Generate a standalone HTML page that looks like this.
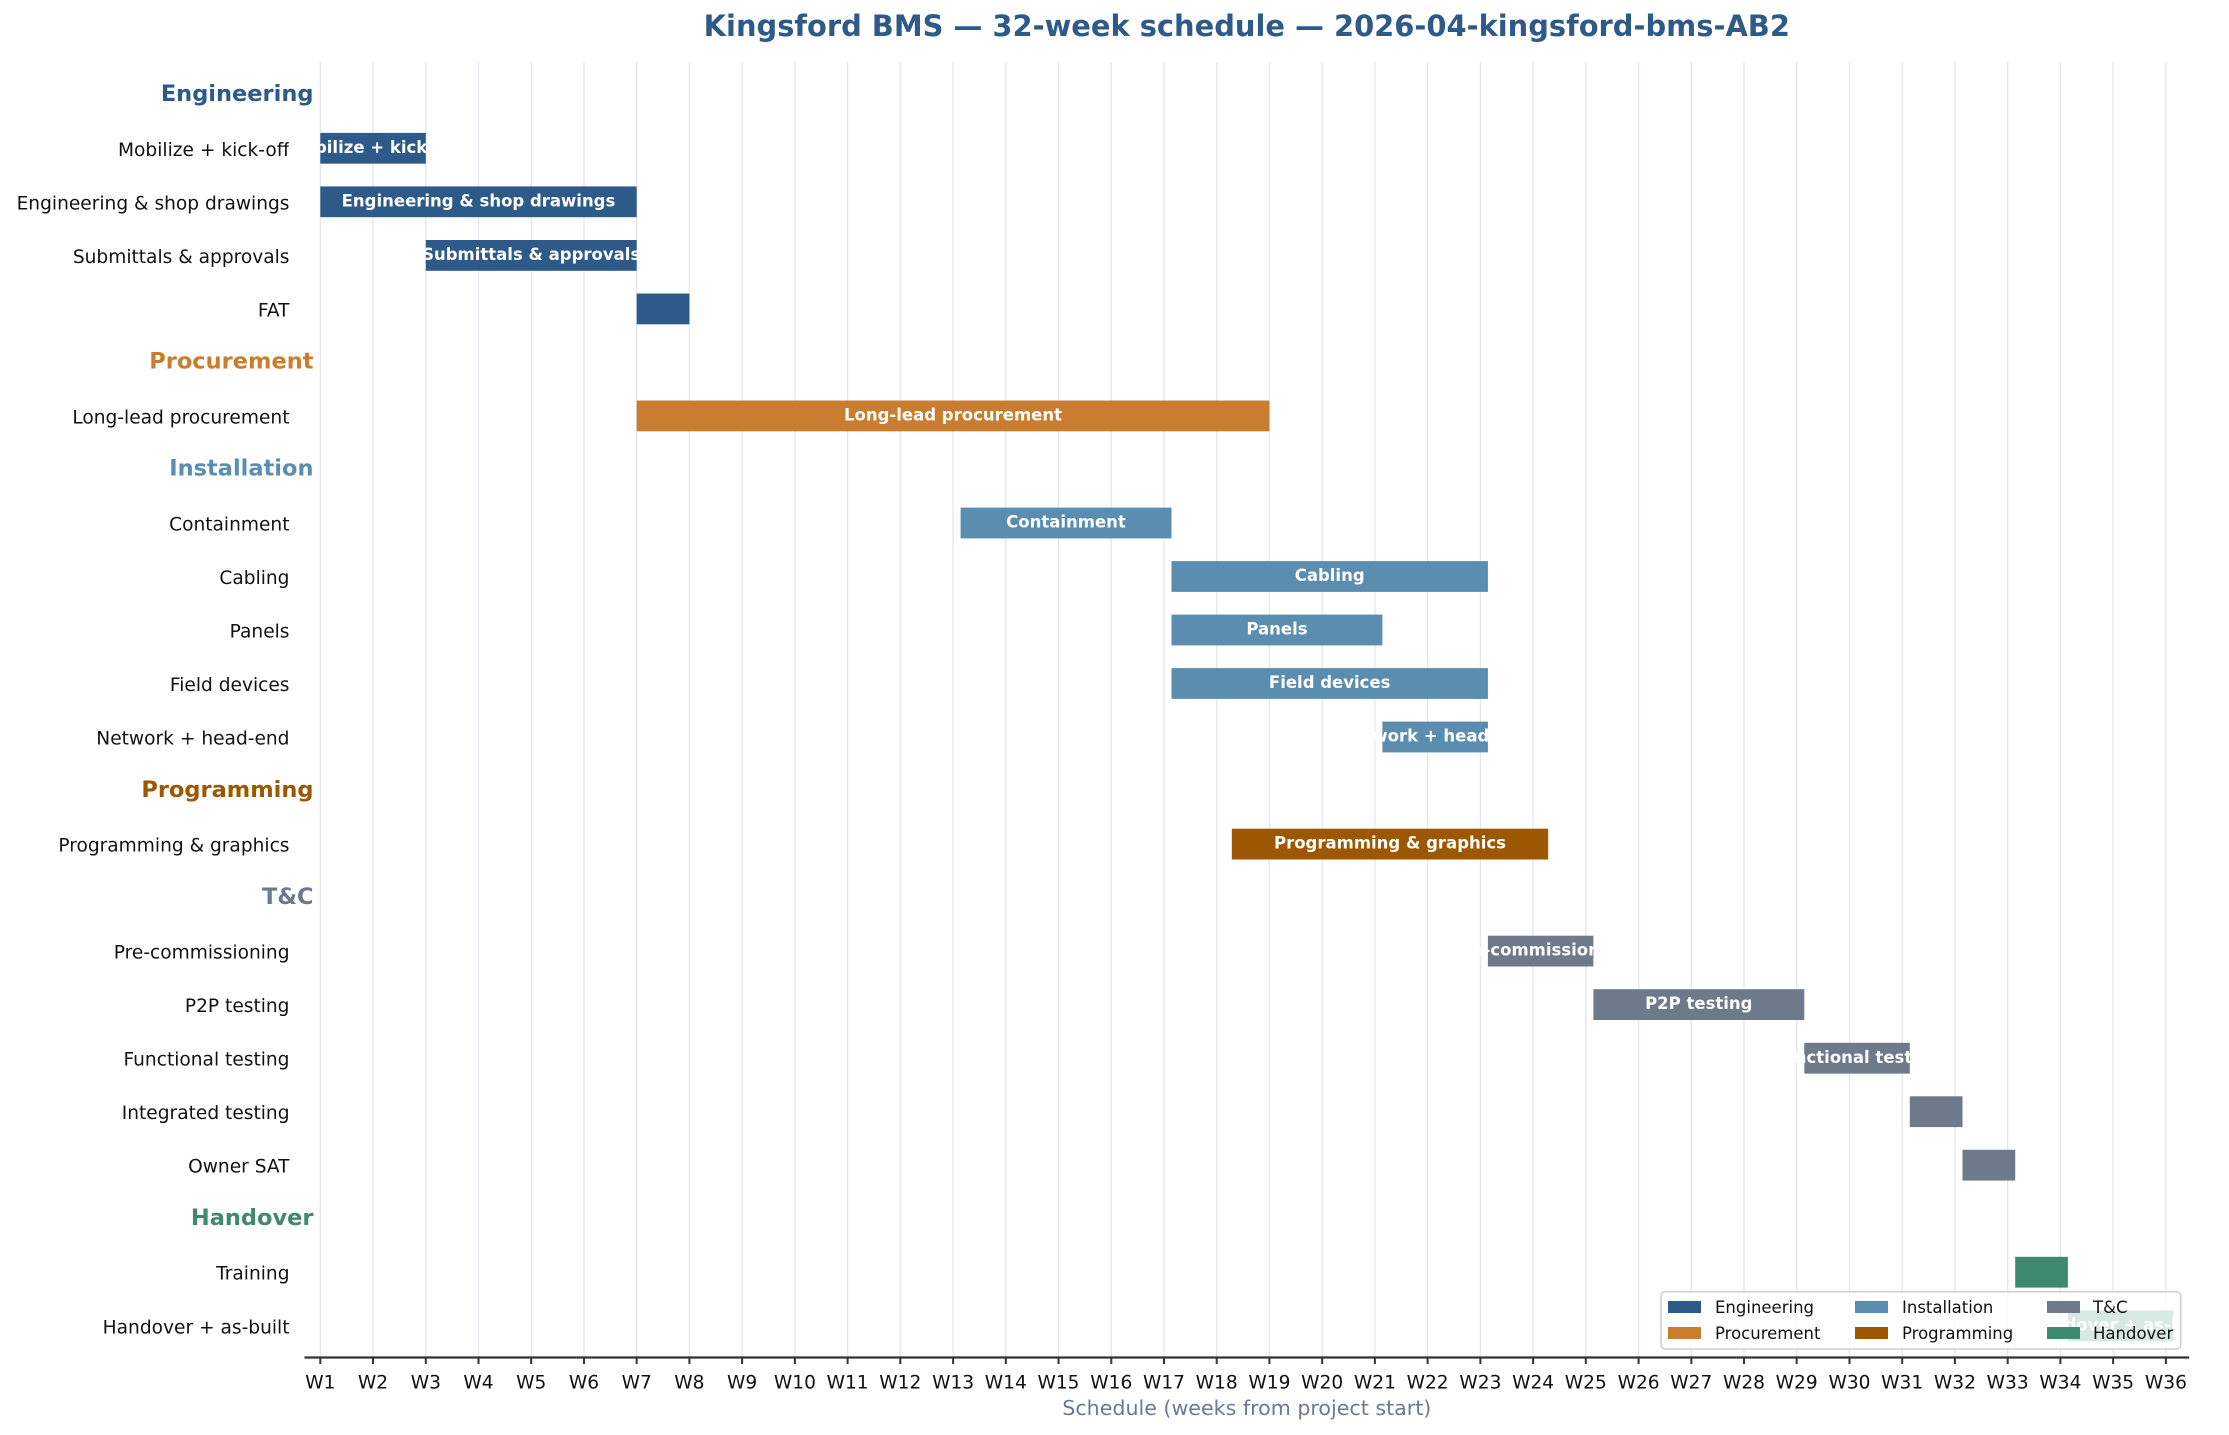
<!DOCTYPE html>
<html>
<head>
<meta charset="utf-8">
<style>
html,body{margin:0;padding:0;background:#ffffff;}
svg{display:block;}
text{font-family:"DejaVu Sans","Liberation Sans",sans-serif;}
.rl{font-size:18.6px;fill:#111;text-anchor:end;}
.hd{font-size:22.5px;font-weight:bold;text-anchor:end;}
.bt{font-size:16.5px;font-weight:bold;fill:#ffffff;text-anchor:middle;}
.tk{font-size:18.6px;fill:#111;text-anchor:middle;}
.lg{font-size:16.5px;fill:#111;}
</style>
</head>
<body>
<svg width="2229" height="1435" viewBox="0 0 2229 1435" xmlns="http://www.w3.org/2000/svg">
<rect x="0" y="0" width="2229" height="1435" fill="#ffffff"/>

<!-- title -->
<text x="1246.8" y="36" text-anchor="middle" style="font-size:28.9px;font-weight:bold;fill:#2E5A8A;">Kingsford BMS — 32-week schedule — 2026-04-kingsford-bms-AB2</text>

<!-- grid -->
<g stroke="#e4e6ed" stroke-width="1.3">
<line x1="320.3" y1="62" x2="320.3" y2="1357.5"/>
<line x1="373.0" y1="62" x2="373.0" y2="1357.5"/>
<line x1="425.8" y1="62" x2="425.8" y2="1357.5"/>
<line x1="478.5" y1="62" x2="478.5" y2="1357.5"/>
<line x1="531.2" y1="62" x2="531.2" y2="1357.5"/>
<line x1="584.0" y1="62" x2="584.0" y2="1357.5"/>
<line x1="636.7" y1="62" x2="636.7" y2="1357.5"/>
<line x1="689.4" y1="62" x2="689.4" y2="1357.5"/>
<line x1="742.1" y1="62" x2="742.1" y2="1357.5"/>
<line x1="794.9" y1="62" x2="794.9" y2="1357.5"/>
<line x1="847.6" y1="62" x2="847.6" y2="1357.5"/>
<line x1="900.3" y1="62" x2="900.3" y2="1357.5"/>
<line x1="953.1" y1="62" x2="953.1" y2="1357.5"/>
<line x1="1005.8" y1="62" x2="1005.8" y2="1357.5"/>
<line x1="1058.5" y1="62" x2="1058.5" y2="1357.5"/>
<line x1="1111.3" y1="62" x2="1111.3" y2="1357.5"/>
<line x1="1164.0" y1="62" x2="1164.0" y2="1357.5"/>
<line x1="1216.7" y1="62" x2="1216.7" y2="1357.5"/>
<line x1="1269.4" y1="62" x2="1269.4" y2="1357.5"/>
<line x1="1322.2" y1="62" x2="1322.2" y2="1357.5"/>
<line x1="1374.9" y1="62" x2="1374.9" y2="1357.5"/>
<line x1="1427.6" y1="62" x2="1427.6" y2="1357.5"/>
<line x1="1480.4" y1="62" x2="1480.4" y2="1357.5"/>
<line x1="1533.1" y1="62" x2="1533.1" y2="1357.5"/>
<line x1="1585.8" y1="62" x2="1585.8" y2="1357.5"/>
<line x1="1638.6" y1="62" x2="1638.6" y2="1357.5"/>
<line x1="1691.3" y1="62" x2="1691.3" y2="1357.5"/>
<line x1="1744.0" y1="62" x2="1744.0" y2="1357.5"/>
<line x1="1796.7" y1="62" x2="1796.7" y2="1357.5"/>
<line x1="1849.5" y1="62" x2="1849.5" y2="1357.5"/>
<line x1="1902.2" y1="62" x2="1902.2" y2="1357.5"/>
<line x1="1954.9" y1="62" x2="1954.9" y2="1357.5"/>
<line x1="2007.7" y1="62" x2="2007.7" y2="1357.5"/>
<line x1="2060.4" y1="62" x2="2060.4" y2="1357.5"/>
<line x1="2113.1" y1="62" x2="2113.1" y2="1357.5"/>
<line x1="2165.9" y1="62" x2="2165.9" y2="1357.5"/>
</g>

<!-- headers -->
<text class="hd" x="313.5" y="101.1" fill="#2E5A8A">Engineering</text>
<text class="hd" x="313.5" y="368.7" fill="#C97D2E">Procurement</text>
<text class="hd" x="313.5" y="475.7" fill="#5B8DB0">Installation</text>
<text class="hd" x="313.5" y="796.9" fill="#9C5700">Programming</text>
<text class="hd" x="313.5" y="903.9" fill="#6E798C">T&amp;C</text>
<text class="hd" x="313.5" y="1225.0" fill="#3E8A6E">Handover</text>

<!-- row labels -->
<text class="rl" x="289.5" y="155.8">Mobilize + kick-off</text>
<text class="rl" x="289.5" y="209.3">Engineering &amp; shop drawings</text>
<text class="rl" x="289.5" y="262.9">Submittals &amp; approvals</text>
<text class="rl" x="289.5" y="316.4">FAT</text>
<text class="rl" x="289.5" y="423.4">Long-lead procurement</text>
<text class="rl" x="289.5" y="530.5">Containment</text>
<text class="rl" x="289.5" y="584.0">Cabling</text>
<text class="rl" x="289.5" y="637.5">Panels</text>
<text class="rl" x="289.5" y="691.0">Field devices</text>
<text class="rl" x="289.5" y="744.5">Network + head-end</text>
<text class="rl" x="289.5" y="851.6">Programming &amp; graphics</text>
<text class="rl" x="289.5" y="958.6">Pre-commissioning</text>
<text class="rl" x="289.5" y="1012.1">P2P testing</text>
<text class="rl" x="289.5" y="1065.7">Functional testing</text>
<text class="rl" x="289.5" y="1119.2">Integrated testing</text>
<text class="rl" x="289.5" y="1172.7">Owner SAT</text>
<text class="rl" x="289.5" y="1279.7">Training</text>
<text class="rl" x="289.5" y="1333.3">Handover + as-built</text>

<!-- bars -->
<g>
<rect x="320.3" y="132.9" width="105.5" height="30.8" fill="#2E5A8A"/>
<rect x="320.3" y="186.4" width="316.4" height="30.8" fill="#2E5A8A"/>
<rect x="425.8" y="240.0" width="210.9" height="30.8" fill="#2E5A8A"/>
<rect x="636.7" y="293.5" width="52.7" height="30.8" fill="#2E5A8A"/>
<rect x="636.7" y="400.5" width="632.7" height="30.8" fill="#C97D2E"/>
<rect x="960.6" y="507.6" width="210.9" height="30.8" fill="#5B8DB0"/>
<rect x="1171.5" y="561.1" width="316.4" height="30.8" fill="#5B8DB0"/>
<rect x="1171.5" y="614.6" width="210.9" height="30.8" fill="#5B8DB0"/>
<rect x="1171.5" y="668.1" width="316.4" height="30.8" fill="#5B8DB0"/>
<rect x="1382.4" y="721.6" width="105.5" height="30.8" fill="#5B8DB0"/>
<rect x="1231.8" y="828.7" width="316.4" height="30.8" fill="#9C5700"/>
<rect x="1487.9" y="935.7" width="105.5" height="30.8" fill="#6E798C"/>
<rect x="1593.4" y="989.2" width="210.9" height="30.8" fill="#6E798C"/>
<rect x="1804.3" y="1042.8" width="105.5" height="30.8" fill="#6E798C"/>
<rect x="1909.8" y="1096.3" width="52.7" height="30.8" fill="#6E798C"/>
<rect x="1962.5" y="1149.8" width="52.7" height="30.8" fill="#6E798C"/>
<rect x="2015.2" y="1256.8" width="52.7" height="30.8" fill="#3E8A6E"/>
<rect x="2067.9" y="1310.4" width="105.5" height="30.8" fill="#3E8A6E"/>
</g>

<!-- bar labels -->
<text class="bt" x="373.0" y="152.9">Mobilize + kick-off</text>
<text class="bt" x="478.5" y="206.4">Engineering &amp; shop drawings</text>
<text class="bt" x="531.2" y="260.0">Submittals &amp; approvals</text>
<text class="bt" x="953.0" y="420.5">Long-lead procurement</text>
<text class="bt" x="1066.0" y="527.6">Containment</text>
<text class="bt" x="1329.7" y="581.1">Cabling</text>
<text class="bt" x="1277.0" y="634.6">Panels</text>
<text class="bt" x="1329.7" y="688.1">Field devices</text>
<text class="bt" x="1435.2" y="741.6">Network + head-end</text>
<text class="bt" x="1390.0" y="848.7">Programming &amp; graphics</text>
<text class="bt" x="1540.6" y="955.7">Pre-commissioning</text>
<text class="bt" x="1698.8" y="1009.2">P2P testing</text>
<text class="bt" x="1857.0" y="1062.8">Functional testing</text>
<text class="bt" x="2120.7" y="1330.4">Handover + as-built</text>

<!-- legend -->
<rect x="1661" y="1291.7" width="519.7" height="57.3" rx="4" ry="4" fill="#ffffff" fill-opacity="0.8" stroke="#cfcfcf" stroke-width="1.5"/>
<rect x="1668" y="1301" width="33" height="12" fill="#2E5A8A"/>
<text class="lg" x="1715" y="1313">Engineering</text>
<rect x="1668" y="1327" width="33" height="12" fill="#C97D2E"/>
<text class="lg" x="1715" y="1339">Procurement</text>
<rect x="1855" y="1301" width="33" height="12" fill="#5B8DB0"/>
<text class="lg" x="1902" y="1313">Installation</text>
<rect x="1855" y="1327" width="33" height="12" fill="#9C5700"/>
<text class="lg" x="1902" y="1339">Programming</text>
<rect x="2047" y="1301" width="33" height="12" fill="#6E798C"/>
<text class="lg" x="2093" y="1313">T&amp;C</text>
<rect x="2047" y="1327" width="33" height="12" fill="#3E8A6E"/>
<text class="lg" x="2093" y="1339">Handover</text>

<!-- bottom spine and ticks -->
<line x1="304.5" y1="1357.5" x2="2189.2" y2="1357.5" stroke="#333333" stroke-width="2.2"/>
<g stroke="#333333" stroke-width="2">
<line x1="320.3" y1="1357.5" x2="320.3" y2="1364"/>
<line x1="373.0" y1="1357.5" x2="373.0" y2="1364"/>
<line x1="425.8" y1="1357.5" x2="425.8" y2="1364"/>
<line x1="478.5" y1="1357.5" x2="478.5" y2="1364"/>
<line x1="531.2" y1="1357.5" x2="531.2" y2="1364"/>
<line x1="584.0" y1="1357.5" x2="584.0" y2="1364"/>
<line x1="636.7" y1="1357.5" x2="636.7" y2="1364"/>
<line x1="689.4" y1="1357.5" x2="689.4" y2="1364"/>
<line x1="742.1" y1="1357.5" x2="742.1" y2="1364"/>
<line x1="794.9" y1="1357.5" x2="794.9" y2="1364"/>
<line x1="847.6" y1="1357.5" x2="847.6" y2="1364"/>
<line x1="900.3" y1="1357.5" x2="900.3" y2="1364"/>
<line x1="953.1" y1="1357.5" x2="953.1" y2="1364"/>
<line x1="1005.8" y1="1357.5" x2="1005.8" y2="1364"/>
<line x1="1058.5" y1="1357.5" x2="1058.5" y2="1364"/>
<line x1="1111.3" y1="1357.5" x2="1111.3" y2="1364"/>
<line x1="1164.0" y1="1357.5" x2="1164.0" y2="1364"/>
<line x1="1216.7" y1="1357.5" x2="1216.7" y2="1364"/>
<line x1="1269.4" y1="1357.5" x2="1269.4" y2="1364"/>
<line x1="1322.2" y1="1357.5" x2="1322.2" y2="1364"/>
<line x1="1374.9" y1="1357.5" x2="1374.9" y2="1364"/>
<line x1="1427.6" y1="1357.5" x2="1427.6" y2="1364"/>
<line x1="1480.4" y1="1357.5" x2="1480.4" y2="1364"/>
<line x1="1533.1" y1="1357.5" x2="1533.1" y2="1364"/>
<line x1="1585.8" y1="1357.5" x2="1585.8" y2="1364"/>
<line x1="1638.6" y1="1357.5" x2="1638.6" y2="1364"/>
<line x1="1691.3" y1="1357.5" x2="1691.3" y2="1364"/>
<line x1="1744.0" y1="1357.5" x2="1744.0" y2="1364"/>
<line x1="1796.7" y1="1357.5" x2="1796.7" y2="1364"/>
<line x1="1849.5" y1="1357.5" x2="1849.5" y2="1364"/>
<line x1="1902.2" y1="1357.5" x2="1902.2" y2="1364"/>
<line x1="1954.9" y1="1357.5" x2="1954.9" y2="1364"/>
<line x1="2007.7" y1="1357.5" x2="2007.7" y2="1364"/>
<line x1="2060.4" y1="1357.5" x2="2060.4" y2="1364"/>
<line x1="2113.1" y1="1357.5" x2="2113.1" y2="1364"/>
<line x1="2165.9" y1="1357.5" x2="2165.9" y2="1364"/>
</g>

<!-- tick labels -->
<g>
<text class="tk" x="320.3" y="1388.3">W1</text>
<text class="tk" x="373.0" y="1388.3">W2</text>
<text class="tk" x="425.8" y="1388.3">W3</text>
<text class="tk" x="478.5" y="1388.3">W4</text>
<text class="tk" x="531.2" y="1388.3">W5</text>
<text class="tk" x="584.0" y="1388.3">W6</text>
<text class="tk" x="636.7" y="1388.3">W7</text>
<text class="tk" x="689.4" y="1388.3">W8</text>
<text class="tk" x="742.1" y="1388.3">W9</text>
<text class="tk" x="794.9" y="1388.3">W10</text>
<text class="tk" x="847.6" y="1388.3">W11</text>
<text class="tk" x="900.3" y="1388.3">W12</text>
<text class="tk" x="953.1" y="1388.3">W13</text>
<text class="tk" x="1005.8" y="1388.3">W14</text>
<text class="tk" x="1058.5" y="1388.3">W15</text>
<text class="tk" x="1111.3" y="1388.3">W16</text>
<text class="tk" x="1164.0" y="1388.3">W17</text>
<text class="tk" x="1216.7" y="1388.3">W18</text>
<text class="tk" x="1269.4" y="1388.3">W19</text>
<text class="tk" x="1322.2" y="1388.3">W20</text>
<text class="tk" x="1374.9" y="1388.3">W21</text>
<text class="tk" x="1427.6" y="1388.3">W22</text>
<text class="tk" x="1480.4" y="1388.3">W23</text>
<text class="tk" x="1533.1" y="1388.3">W24</text>
<text class="tk" x="1585.8" y="1388.3">W25</text>
<text class="tk" x="1638.6" y="1388.3">W26</text>
<text class="tk" x="1691.3" y="1388.3">W27</text>
<text class="tk" x="1744.0" y="1388.3">W28</text>
<text class="tk" x="1796.7" y="1388.3">W29</text>
<text class="tk" x="1849.5" y="1388.3">W30</text>
<text class="tk" x="1902.2" y="1388.3">W31</text>
<text class="tk" x="1954.9" y="1388.3">W32</text>
<text class="tk" x="2007.7" y="1388.3">W33</text>
<text class="tk" x="2060.4" y="1388.3">W34</text>
<text class="tk" x="2113.1" y="1388.3">W35</text>
<text class="tk" x="2165.9" y="1388.3">W36</text>
</g>

<!-- x label -->
<text x="1246.8" y="1415" text-anchor="middle" style="font-size:20.6px;fill:#6B7A90;">Schedule (weeks from project start)</text>
</svg>
</body>
</html>
